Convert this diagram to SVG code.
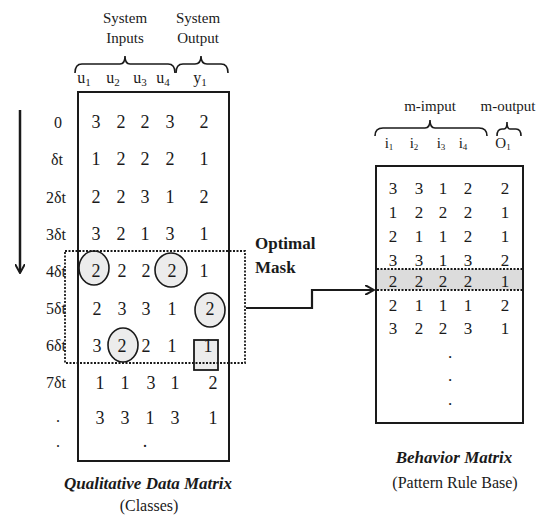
<svg xmlns="http://www.w3.org/2000/svg" width="538" height="517" viewBox="0 0 538 517">
<style>
text{font-family:"Liberation Serif","Times New Roman",serif;fill:#1a1a1a}
.n{font-size:18px;text-anchor:middle}
.rn{font-size:17px;text-anchor:middle}
.rl{font-family:"Liberation Sans","Arial",sans-serif;font-size:16px;text-anchor:middle}
.hd{font-size:15px;text-anchor:middle}
.sub{font-size:16px;text-anchor:middle}
.box{fill:none;stroke:#1a1a1a;stroke-width:2}
.brace{fill:none;stroke:#1a1a1a;stroke-width:1.6}
.dot{fill:none;stroke:#1a1a1a;stroke-width:1.8;stroke-dasharray:2 1.5}
.circ{fill:#ececec;stroke:#1a1a1a;stroke-width:1.6}
.title{font-size:17px;font-weight:bold;font-style:italic;text-anchor:middle}
.cap{font-size:16px;text-anchor:middle}
</style>
<defs>
<marker id="ah" markerWidth="10" markerHeight="10" refX="8" refY="5" orient="auto" markerUnits="userSpaceOnUse">
<path d="M0,0 L9,5 L0,10" fill="none" stroke="#1a1a1a" stroke-width="2"/>
</marker>
</defs>

<g id="time-arrow">
<line x1="20" y1="110" x2="20" y2="272" stroke="#1a1a1a" stroke-width="2.5" marker-end="url(#ah)"/>
</g>

<g id="qualitative-data-matrix">
<text class="hd" x="125" y="23">System</text>
<text class="hd" x="125" y="43">Inputs</text>
<text class="hd" x="198" y="23">System</text>
<text class="hd" x="198" y="43">Output</text>
<path class="brace" d="M75,73 Q75,64 82,64 L120,64 Q125,64 125,56 Q125,64 130,64 L168,64 Q175,64 175,73"/>
<path class="brace" d="M176,73 Q176,64 183,64 L195,64 Q201,64 201,56 Q201,64 207,64 L221,64 Q228,64 228,73"/>
<text class="sub" x="84" y="83">u<tspan font-size="11" dy="3">1</tspan></text>
<text class="sub" x="113" y="83">u<tspan font-size="11" dy="3">2</tspan></text>
<text class="sub" x="140" y="83">u<tspan font-size="11" dy="3">3</tspan></text>
<text class="sub" x="163" y="83">u<tspan font-size="11" dy="3">4</tspan></text>
<text class="sub" x="200" y="83">y<tspan font-size="11" dy="3">1</tspan></text>

<rect class="box" x="78" y="92" width="151" height="369"/>

<g id="highlights">
<ellipse class="circ" cx="94" cy="268" rx="15" ry="17"/>
<ellipse class="circ" cx="171" cy="270" rx="16" ry="17"/>
<ellipse class="circ" cx="210" cy="310" rx="15" ry="17"/>
<ellipse class="circ" cx="123" cy="345" rx="15" ry="17"/>
<rect x="194" y="340" width="24" height="30" fill="#ececec" stroke="#1a1a1a" stroke-width="1.8"/>
</g>

<g class="rl">
<text x="58" y="128">0</text>
<text x="57" y="165">δt</text>
<text x="56" y="203">2δt</text>
<text x="56" y="240">3δt</text>
<text x="56" y="277">4δt</text>
<text x="56" y="314">5δt</text>
<text x="56" y="351">6δt</text>
<text x="56" y="388">7δt</text>
<text x="58" y="422">.</text>
<text x="58" y="447">.</text>
</g>

<g class="n">
<text x="96" y="128">3</text><text x="121" y="128">2</text><text x="145" y="128">2</text><text x="170" y="128">3</text><text x="204" y="128">2</text>
<text x="96" y="165">1</text><text x="121" y="165">2</text><text x="145" y="165">2</text><text x="170" y="165">2</text><text x="204" y="165">1</text>
<text x="96" y="203">2</text><text x="121" y="203">2</text><text x="145" y="203">3</text><text x="170" y="203">1</text><text x="204" y="203">2</text>
<text x="96" y="240">3</text><text x="121" y="240">2</text><text x="145" y="240">1</text><text x="170" y="240">3</text><text x="204" y="240">1</text>
<text x="96" y="277">2</text><text x="122" y="277">2</text><text x="146" y="277">2</text><text x="172" y="277">2</text><text x="204" y="277">1</text>
<text x="97" y="315">2</text><text x="122" y="315">3</text><text x="146" y="315">3</text><text x="172" y="315">1</text><text x="210" y="315">2</text>
<text x="97" y="352">3</text><text x="122" y="352">2</text><text x="146" y="352">2</text><text x="172" y="352">1</text><text x="208" y="352">1</text>
<text x="100" y="389">1</text><text x="125" y="389">1</text><text x="151" y="389">3</text><text x="175" y="389">1</text><text x="213" y="389">2</text>
<text x="100" y="424">3</text><text x="125" y="424">3</text><text x="150" y="424">1</text><text x="175" y="424">3</text><text x="213" y="424">1</text>
<text x="145" y="447">.</text>
</g>

<text class="title" x="148" y="489">Qualitative Data Matrix</text>
<text class="cap" x="149" y="511">(Classes)</text>
</g>

<g id="optimal-mask">
<rect class="dot" x="65" y="251" width="180" height="112"/>
<text x="255" y="249" font-size="17" font-weight="bold">Optimal</text>
<text x="255" y="273" font-size="17" font-weight="bold">Mask</text>
</g>

<g id="connectors">
<path d="M246,308 H312 V290 H373" fill="none" stroke="#1a1a1a" stroke-width="2.2" marker-end="url(#ah)"/>
</g>

<g id="behavior-matrix">
<text class="hd" x="430" y="111">m-imput</text>
<text class="hd" x="508" y="111">m-output</text>
<path class="brace" d="M375,136 Q375,128 383,128 L425,128 Q430,128 430,120 Q430,128 435,128 L479,128 Q487,128 487,136"/>
<path class="brace" d="M497,136 Q497,129 502,129 L504,129 Q507,129 507,122 Q507,129 510,129 L516,129 Q521,129 521,136"/>
<text class="hd" x="389" y="148">i<tspan font-size="9" dy="2">1</tspan></text>
<text class="hd" x="414" y="148">i<tspan font-size="9" dy="2">2</tspan></text>
<text class="hd" x="441" y="148">i<tspan font-size="9" dy="2">3</tspan></text>
<text class="hd" x="463" y="148">i<tspan font-size="9" dy="2">4</tspan></text>
<text class="hd" x="503" y="148">O<tspan font-size="9" dy="2">1</tspan></text>

<rect class="box" x="376" y="166" width="147" height="257"/>
<rect x="377" y="269" width="145" height="21" fill="#dcdcdc"/>
<line class="dot" x1="377" y1="269" x2="522" y2="269"/>
<line class="dot" x1="377" y1="290" x2="522" y2="290"/>

<g class="rn">
<text x="393" y="194">3</text><text x="419" y="194">3</text><text x="443" y="194">1</text><text x="468" y="194">2</text><text x="505" y="194">2</text>
<text x="393" y="218">1</text><text x="419" y="218">2</text><text x="443" y="218">2</text><text x="468" y="218">2</text><text x="505" y="218">1</text>
<text x="393" y="242">2</text><text x="419" y="242">1</text><text x="443" y="242">1</text><text x="468" y="242">2</text><text x="505" y="242">1</text>
<text x="393" y="266">3</text><text x="419" y="266">3</text><text x="443" y="266">1</text><text x="468" y="266">3</text><text x="505" y="266">2</text>
<text x="393" y="287">2</text><text x="419" y="287">2</text><text x="443" y="287">2</text><text x="468" y="287">2</text><text x="505" y="287">1</text>
<text x="393" y="311">2</text><text x="419" y="311">1</text><text x="443" y="311">1</text><text x="468" y="311">1</text><text x="505" y="311">2</text>
<text x="393" y="334">3</text><text x="419" y="334">2</text><text x="443" y="334">2</text><text x="468" y="334">3</text><text x="505" y="334">1</text>
<text x="450" y="358">.</text>
<text x="450" y="381">.</text>
<text x="450" y="405">.</text>
</g>

<text class="title" x="454" y="463">Behavior Matrix</text>
<text class="cap" x="455" y="488">(Pattern Rule Base)</text>
</g>
</svg>
